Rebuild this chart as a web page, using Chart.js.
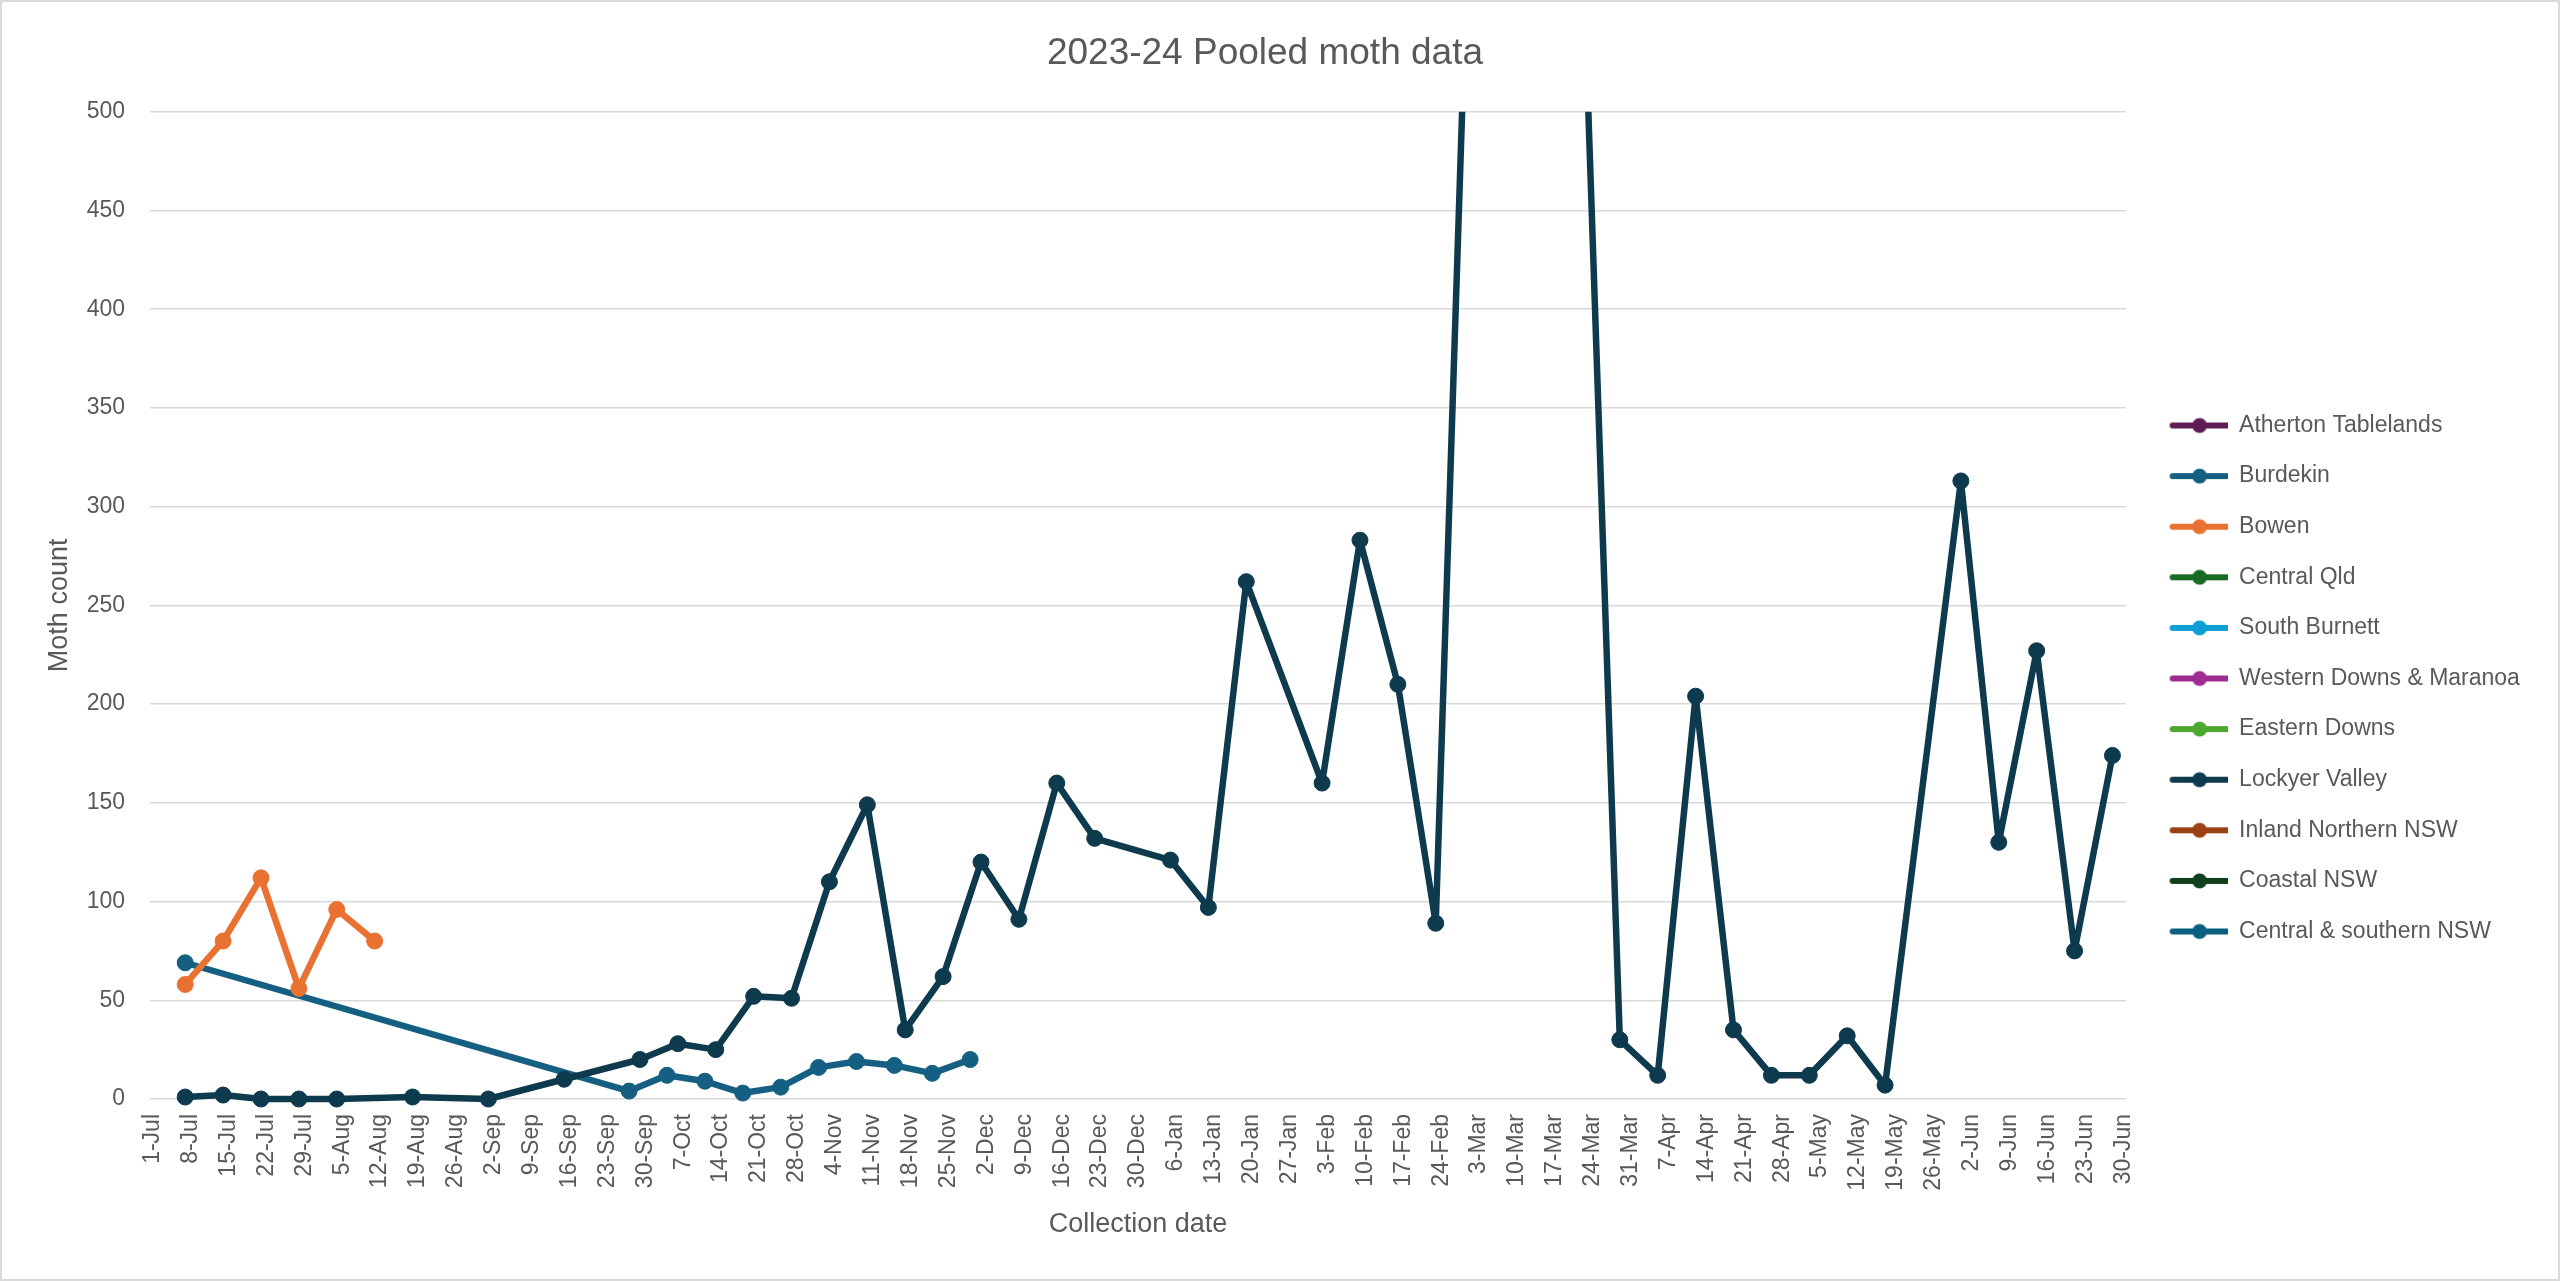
<!DOCTYPE html>
<html><head><meta charset="utf-8">
<script src="https://cdn.jsdelivr.net/npm/chart.js@4.4.1/dist/chart.umd.min.js"></script>
<style>html,body{margin:0;padding:0;background:#fff;} canvas{display:block;}</style>
</head><body>
<canvas id="c" width="2560" height="1281"></canvas>
<script>
// ---- data ----
const tickLabels = ['1-Jul','8-Jul','15-Jul','22-Jul','29-Jul','5-Aug','12-Aug','19-Aug','26-Aug','2-Sep','9-Sep','16-Sep','23-Sep','30-Sep','7-Oct','14-Oct','21-Oct','28-Oct','4-Nov','11-Nov','18-Nov','25-Nov','2-Dec','9-Dec','16-Dec','23-Dec','30-Dec','6-Jan','13-Jan','20-Jan','27-Jan','3-Feb','10-Feb','17-Feb','24-Feb','3-Mar','10-Mar','17-Mar','24-Mar','31-Mar','7-Apr','14-Apr','21-Apr','28-Apr','5-May','12-May','19-May','26-May','2-Jun','9-Jun','16-Jun','23-Jun','30-Jun'];
// tick positions: days since 1-Jul
const tickDays = [0,7,14,21,28,35,42,49,56,63,70,77,84,91,98,105,112,119,126,133,140,147,154,161,168,175,182,189,196,203,210,217,224,231,238,245,252,259,266,273,280,287,294,301,308,315,322,329,336,343,350,357,364];

const seriesNames = ['Atherton Tablelands','Burdekin','Bowen','Central Qld','South Burnett','Western Downs & Maranoa','Eastern Downs','Lockyer Valley','Inland Northern NSW','Coastal NSW','Central & southern NSW'];

// collection dates as days since 1-Jul, and moth counts
const burdekinDays   = [6, 88, 95, 102, 109, 116, 123, 130, 137, 144, 151];
const burdekinCounts = [69, 4, 12, 9, 3, 6, 16, 19, 17, 13, 20];

const bowenDays   = [6, 13, 20, 27, 34, 41];
const bowenCounts = [58, 80, 112, 56, 96, 80];

const lockyerDays   = [6, 13, 20, 27, 34, 48, 62, 76, 90, 97, 104, 111, 118, 125, 132, 139, 146, 153, 160, 167, 174, 188, 195, 202, 216, 223, 230, 237, 244, 251, 258, 265, 271, 278, 285, 292, 299, 306, 313, 320, 334, 341, 348, 355, 362];
const lockyerCounts = [1, 2, 0, 0, 0, 1, 0, 10, 20, 28, 25, 52, 51, 110, 149, 35, 62, 120, 91, 160, 132, 121, 97, 262, 160, 283, 210, 89, 680, 950, 820, 515, 30, 12, 204, 35, 12, 12, 32, 7, 313, 130, 227, 75, 174];

const emptyDays = [];
const emptyCounts = [];

// ---- styles ----
const seriesColors = ['#5E1B55','#156082','#E97132','#196B24','#0F9ED5','#A02B93','#4EA72E','#0E3A4E','#9B4116','#10401A','#0A5F80'];
const seriesDays   = [emptyDays, burdekinDays, bowenDays, emptyDays, emptyDays, emptyDays, emptyDays, lockyerDays, emptyDays, emptyDays, emptyDays];
const seriesCounts = [emptyCounts, burdekinCounts, bowenCounts, emptyCounts, emptyCounts, emptyCounts, emptyCounts, lockyerCounts, emptyCounts, emptyCounts, emptyCounts];

const TXT = '#595959';
const FAM = 'Liberation Sans';
const legendFontSize = 23, legendPad = 27.6, symW = 74;
const plotRight = 2126;

const mctx = document.createElement('canvas').getContext('2d');
mctx.font = legendFontSize + 'px ' + FAM;
const maxTextW = Math.max(...seriesNames.map(n => mctx.measureText(n).width));
const legendW = legendPad + symW + legendFontSize / 2 + maxTextW + 10;
const padRight = 2560 - plotRight - legendW;

function symbol(color) {
  const c = document.createElement('canvas');
  c.width = symW; c.height = 20;
  const g = c.getContext('2d');
  g.strokeStyle = color; g.lineWidth = 6; g.lineCap = 'round';
  g.beginPath(); g.moveTo(19, 10); g.lineTo(73, 10); g.stroke();
  g.fillStyle = color;
  g.beginPath(); g.arc(46, 10, 7.5, 0, Math.PI * 2); g.fill();
  return c;
}
const symbols = seriesColors.map(symbol);

const datasets = seriesNames.map((name, i) => ({
  label: name,
  data: seriesDays[i].map((d, k) => ({ x: d, y: seriesCounts[i][k] })),
  borderColor: seriesColors[i],
  backgroundColor: seriesColors[i],
  pointBackgroundColor: seriesColors[i],
  pointBorderColor: seriesColors[i],
  pointBorderWidth: 1,
  pointRadius: 8,
  borderWidth: 6.5,
  borderJoinStyle: 'round',
  borderCapStyle: 'round',
  tension: 0,
  order: -i,
  clip: { left: 20, top: 0, right: 20, bottom: 20 }
}));

const borderPlugin = {
  id: 'outerBorder',
  afterDraw(chart) {
    const ctx = chart.ctx;
    ctx.save();
    ctx.strokeStyle = '#d9d9d9';
    ctx.lineWidth = 2;
    ctx.strokeRect(1, 1, chart.width - 2, chart.height - 2);
    ctx.restore();
  }
};

new Chart(document.getElementById('c'), {
  type: 'line',
  data: { datasets },
  plugins: [borderPlugin],
  options: {
    responsive: false,
    animation: false,
    devicePixelRatio: 1,
    layout: { padding: { left: 0, right: padRight, top: 0, bottom: 36 } },
    plugins: {
      title: {
        display: true, text: '2023-24 Pooled moth data', color: TXT,
        font: { family: FAM, size: 37, weight: 'normal' },
        padding: { top: 31.5, bottom: 35.8 }
      },
      legend: {
        position: 'right', align: 'center',
        title: { display: true, text: ' ', font: { family: FAM, size: 10 }, padding: { top: 100, bottom: 0 } },
        labels: {
          usePointStyle: true, pointStyleWidth: symW, boxHeight: legendFontSize,
          color: TXT, padding: legendPad,
          font: { family: FAM, size: legendFontSize },
          generateLabels(chart) {
            const items = Chart.defaults.plugins.legend.labels.generateLabels(chart);
            items.sort((a, b) => a.datasetIndex - b.datasetIndex);
            items.forEach(it => { it.pointStyle = symbols[it.datasetIndex]; it.fontColor = TXT; });
            return items;
          }
        }
      },
      tooltip: { enabled: false }
    },
    scales: {
      x: {
        type: 'linear', min: -0.5, max: 364.5,
        afterBuildTicks(s) { s.ticks = tickDays.map(v => ({ value: v })); },
        afterFit(s) { s.height = 146; },
        ticks: {
          autoSkip: false, minRotation: 90, maxRotation: 90, padding: 15,
          color: TXT, font: { family: FAM, size: 23 },
          callback: (v, idx) => tickLabels[idx]
        },
        grid: { display: false, drawTicks: false },
        border: { display: false },
        title: { display: true, text: 'Collection date', color: TXT, font: { family: FAM, size: 27 }, padding: { top: 0, bottom: 4.5 } }
      },
      y: {
        min: 0, max: 500,
        afterFit(s) { s.width = 150; },
        ticks: { stepSize: 50, padding: 25, color: TXT, font: { family: FAM, size: 23 } },
        grid: { color: '#d9d9d9', lineWidth: 1.5, drawTicks: false },
        border: { display: false },
        title: { display: true, text: 'Moth count', color: TXT, font: { family: FAM, size: 27 }, padding: { top: 43.5, bottom: 0 } }
      }
    }
  }
});
</script>
</body></html>
